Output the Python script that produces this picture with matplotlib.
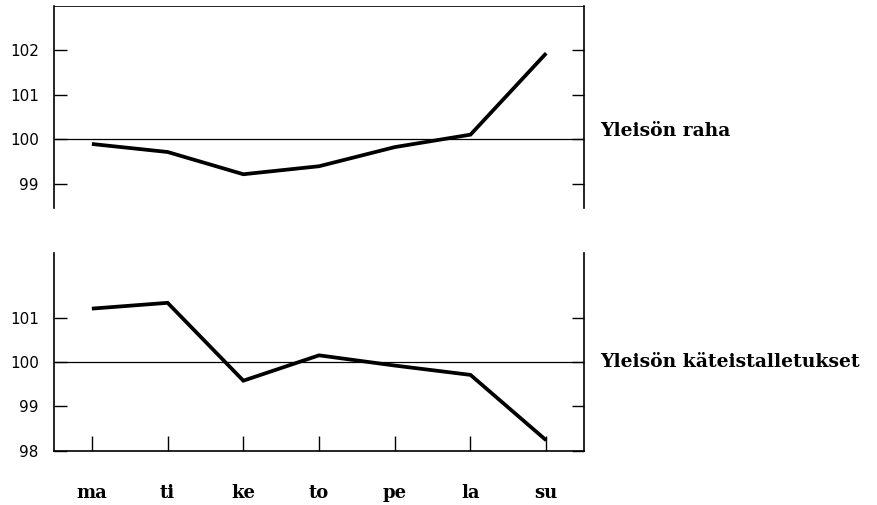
import matplotlib
matplotlib.use("Agg")
import matplotlib.pyplot as plt

days = ["ma", "ti", "ke", "to", "pe", "la", "su"]
raha = [99.89, 99.71, 99.21, 99.39, 99.82, 100.10, 101.93]
talletukset = [101.20, 101.33, 99.58, 100.15, 99.92, 99.71, 98.24]
labels = ["Yleisön raha", "Yleisön käteistalletukset"]
top_ticks = [99, 100, 101, 102]
bot_ticks = [98, 99, 100, 101]

fig = plt.figure(figsize=(8.77, 5.05), dpi=100)
ax1 = fig.add_axes([0.0616, 0.588, 0.6044, 0.400])
ax2 = fig.add_axes([0.0616, 0.107, 0.6044, 0.392])

x = list(range(len(days)))
serif = "DejaVu Serif"

for ax, vals, ticks, ylim, lab, off in [
    (ax1, raha, top_ticks, (98.45, 102.99), labels[0], 0.04),
    (ax2, talletukset, bot_ticks, (98.0, 102.45), labels[1], 0.0),
]:
    ax.plot(x, vals, color="black", lw=2.7, solid_joinstyle="miter", solid_capstyle="butt", zorder=3)
    ax.axhline(100, color="black", lw=0.9, zorder=2)
    ax.set_xlim(-0.5, 6.5)
    ax.set_ylim(*ylim)
    ax.set_yticks(ticks)
    ax.set_yticklabels([str(t) for t in ticks], fontsize=11, family="DejaVu Sans")
    ax.tick_params(axis="y", direction="in", length=9, width=1.0, pad=11,
                   left=True, right=True, labelleft=True, labelright=False)
    for s in ["left", "right"]:
        ax.spines[s].set_linewidth(1.2)
    ax.text(1.03, (100 - ylim[0]) / (ylim[1] - ylim[0]) + off, lab,
            transform=ax.transAxes, family=serif, fontweight="bold",
            fontsize=13.5, ha="left", va="center")

ax1.spines["bottom"].set_visible(False)
ax1.spines["top"].set_linewidth(0.6)
ax1.set_xticks([])

ax2.spines["top"].set_visible(False)
ax2.spines["bottom"].set_linewidth(1.2)
ax2.set_xticks(x)
ax2.set_xticklabels(days, family=serif, fontweight="bold", fontsize=13)
ax2.tick_params(axis="x", direction="in", length=11, width=1.0, pad=24)

fig.savefig("out.png", dpi=100)
